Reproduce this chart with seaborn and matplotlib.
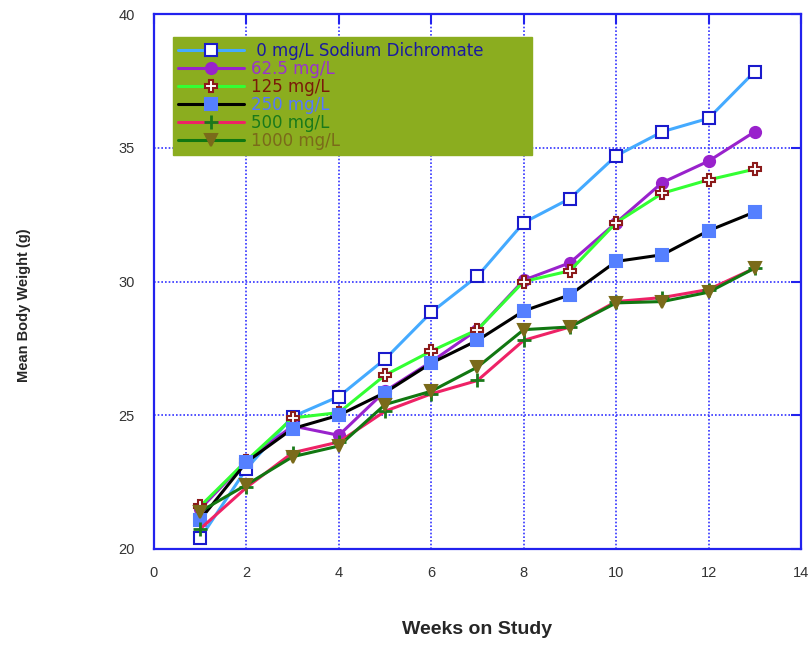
import matplotlib
matplotlib.use("Agg")
import matplotlib.pyplot as plt
import seaborn as sns

# Data
weeks = list(range(1, 14))
dose_labels = [" 0 mg/L Sodium Dichromate", "62.5 mg/L", "125 mg/L", "250 mg/L", "500 mg/L", "1000 mg/L"]
w_0 = [20.4, 23.0, 24.95, 25.7, 27.1, 28.85, 30.2, 32.2, 33.1, 34.7, 35.6, 36.1, 37.85]
w_62 = [21.5, 23.3, 24.6, 24.25, 25.9, 27.0, 28.2, 30.05, 30.7, 32.2, 33.7, 34.5, 35.6]
w_125 = [21.6, 23.3, 24.9, 25.1, 26.5, 27.4, 28.2, 30.0, 30.4, 32.2, 33.3, 33.8, 34.2]
w_250 = [21.1, 23.25, 24.5, 25.0, 25.85, 26.95, 27.8, 28.9, 29.5, 30.75, 31.0, 31.9, 32.6]
w_500 = [20.75, 22.3, 23.6, 24.0, 25.15, 25.8, 26.3, 27.8, 28.3, 29.25, 29.4, 29.7, 30.5]
w_1000 = [21.4, 22.4, 23.45, 23.85, 25.4, 25.9, 26.8, 28.2, 28.3, 29.2, 29.25, 29.6, 30.5]
series = [w_0, w_62, w_125, w_250, w_500, w_1000]

# Styles
LINE_COLORS = ["#44aaff", "#9922cc", "#33ff33", "#000000", "#ee2266", "#117711"]
MARKERS = ["s", "o", "P", "s", "+", "v"]
MFC = ["white", "#9922cc", "white", "#5580ff", "#1a7a1a", "#7a6a1a"]
MEC = ["#1a1acc", "#9922cc", "#8b1a1a", "#5580ff", "#1a7a1a", "#7a6a1a"]
MSIZE = [8, 8, 9, 9, 10, 8]
TEXT_COLORS = ["#1a1aa0", "#9933cc", "#7a1a0a", "#5577ff", "#1a7a1a", "#7a6a1a"]
AXIS_BLUE = "#2222ee"

sns.set_style("white")
plt.rcParams["font.family"] = ["Liberation Sans", "DejaVu Sans"]

fig = plt.figure(figsize=(8.1, 6.46), dpi=100)
ax = fig.add_axes([154 / 810, 1 - 549 / 646, 647 / 810, 535 / 646])

for vals, lab, lc, mk, mfc, mec, ms in zip(series, dose_labels, LINE_COLORS, MARKERS, MFC, MEC, MSIZE):
    sns.lineplot(x=weeks, y=vals, ax=ax, color=lc, lw=2.2, marker=mk, markersize=ms,
                 markerfacecolor=mfc, markeredgecolor=mec,
                 markeredgewidth=2 if mk == "+" else 1.5, label=lab)

ax.set_xlim(0, 14)
ax.set_ylim(20, 40)
ax.set_xticks(range(0, 15, 2))
ax.set_yticks(range(20, 41, 5))
ax.grid(True, color="#3333ff", linestyle=(0, (1, 1.2)), linewidth=1.2)
for s in ax.spines.values():
    s.set_visible(True)
    s.set_color(AXIS_BLUE)
    s.set_linewidth(1.6)
ax.tick_params(axis="both", direction="in", length=7, width=1.5, color=AXIS_BLUE,
               top=True, right=True, labelsize=10.5, labelcolor="#333333")
ax.tick_params(axis="y", pad=14)
ax.tick_params(axis="x", pad=12)

ax.set_xlabel("Weeks on Study", fontsize=14, fontweight="bold")
ax.xaxis.set_label_coords(0.5, -0.135)
ax.set_ylabel("Mean Body Weight (g)", fontsize=10.5, fontweight="bold")
ax.yaxis.set_label_coords(-0.19, 0.455)

# legend box: olive panel spanning ~360 px from the upper left
leg = ax.legend(loc="upper left", bbox_to_anchor=(0.029, 0.957 - 0.2, 0.556, 0.2), mode="expand",
                frameon=True, fancybox=False,
                facecolor="#8bad1f", edgecolor="#8bad1f", framealpha=1,
                prop={"family": "DejaVu Sans", "size": 12},
                handlelength=4.0, handletextpad=0.4, labelspacing=0.0, borderpad=0.3,
                borderaxespad=0)
for txt, c in zip(leg.get_texts(), TEXT_COLORS):
    txt.set_color(c)

fig.savefig("out.png", dpi=100, facecolor="white")
